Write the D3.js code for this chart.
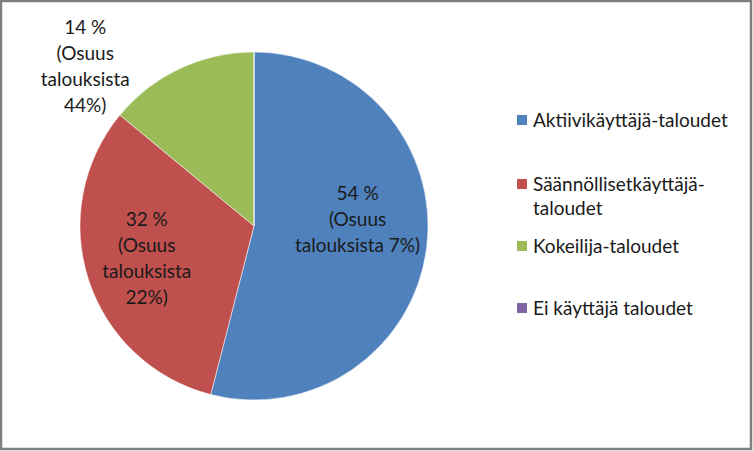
<!DOCTYPE html>
<html>
<head>
<meta charset="utf-8">
<script src="https://cdn.jsdelivr.net/npm/d3@7"></script>
<style>
  body { margin: 0; background: #fff; }
  svg { display: block; }
  text { font-family: Lato, "Open Sans", sans-serif; fill: #1a1a1a; }
</style>
</head>
<body>
<div id="chart"></div>
<script>
// categories and values
const categories = [
  "Aktiivikäyttäjä-taloudet",
  "Säännöllisetkäyttäjä-taloudet",
  "Kokeilija-taloudet",
  "Ei käyttäjä taloudet",
];
const shares = [54, 32, 14, 0];
// label line breaks, as in the picture
const labelLines = [
  ["54 %", "(Osuus", "talouksista 7%)"],
  ["32 %", "(Osuus", "talouksista", "22%)"],
  ["14 %", "(Osuus", "talouksista", "44%)"],
  [],
];
const legendLines = [
  ["Aktiivikäyttäjä-taloudet"],
  ["Säännöllisetkäyttäjä-", "taloudet"],
  ["Kokeilija-taloudet"],
  ["Ei käyttäjä taloudet"],
];
const colors = ["#4f81bd", "#c0504d", "#9bbb59", "#8064a2"];

const width = 753;
const height = 451;
const cx = 254;
const cy = 226;
const radius = 174;
const fontSize = 19;
const lineH = 26;

const svg = d3
  .select("#chart")
  .append("svg")
  .attr("width", width)
  .attr("height", height);

// outer frame
svg
  .append("rect")
  .attr("x", 1)
  .attr("y", 1)
  .attr("width", width - 3)
  .attr("height", height - 3)
  .style("fill", "#fff")
  .style("stroke", "#7f7f7f")
  .style("stroke-width", 2.5);

const data = categories.map((c, i) => ({
  name: c,
  value: shares[i],
  lines: labelLines[i],
  color: colors[i],
}));

const pieGenerator = d3
  .pie()
  .sort(null)
  .value((d) => d.value);

const arcGenerator = d3.arc().innerRadius(0).outerRadius(radius);
const labelArc = d3
  .arc()
  .innerRadius(radius * 0.6)
  .outerRadius(radius * 0.6);

const g = svg.append("g").attr("transform", `translate(${cx}, ${cy})`);

const arcs = pieGenerator(data);

g.selectAll("path")
  .data(arcs)
  .enter()
  .append("path")
  .attr("d", arcGenerator)
  .style("fill", (d) => d.data.color)
  .style("stroke", "#fff")
  .style("stroke-width", 0.5);

// labels: big slices inside, small slice pushed outside to the upper left
arcs.forEach((d) => {
  if (!d.data.lines.length) return;
  let [x, y] = labelArc.centroid(d);
  if (d.data.value < 20) {
    x = -radius * 0.97;
    y = -radius * 0.92;
  } else if (d.data.value > 50) {
    y -= 20;
  } else {
    x -= 8;
  }
  const n = d.data.lines.length;
  const t = g
    .append("text")
    .attr("text-anchor", "middle")
    .style("font-size", `${fontSize}px`);
  d.data.lines.forEach((line, i) => {
    t.append("tspan")
      .attr("x", x)
      .attr("y", y + (i - (n - 1) / 2) * lineH)
      .attr("dy", "0.35em")
      .text(line);
  });
});

// legend
const legendX = 517;
const legendRows = [120, 184, 246, 308];
const legend = svg
  .selectAll(".legend")
  .data(data)
  .enter()
  .append("g")
  .attr("class", "legend")
  .attr("transform", (d, i) => `translate(${legendX}, ${legendRows[i]})`);

legend
  .append("rect")
  .attr("x", 0)
  .attr("y", -5)
  .attr("width", 10)
  .attr("height", 10)
  .style("fill", (d) => d.color);

legend.each(function (d, i) {
  const t = d3
    .select(this)
    .append("text")
    .style("font-size", `${fontSize}px`);
  legendLines[i].forEach((line, j) => {
    t.append("tspan")
      .attr("x", 16)
      .attr("y", j * 24)
      .attr("dy", "0.35em")
      .text(line);
  });
});
</script>
</body>
</html>
